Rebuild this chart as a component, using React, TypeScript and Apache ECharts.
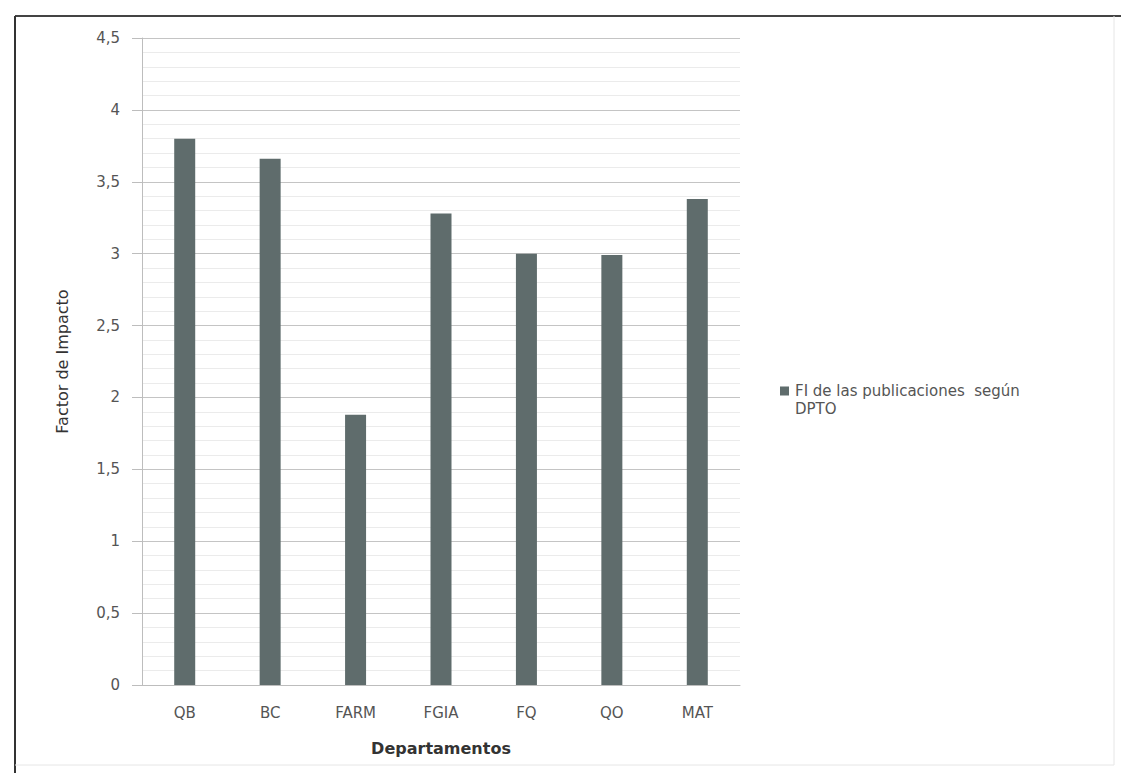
import React, { useEffect, useRef } from "react";
import * as echarts from "echarts";

const categories = ["QB", "BC", "FARM", "FGIA", "FQ", "QO", "MAT"];
const fiValues = [3.8, 3.66, 1.88, 3.28, 3.0, 2.99, 3.38];
const seriesName = "FI de las publicaciones  según DPTO";
const yAxisName = "Factor de Impacto";
const xAxisName = "Departamentos";

export default function App() {
  const ref = useRef<HTMLDivElement>(null);
  useEffect(() => {
    document.body.style.margin = "0";
    const chart = echarts.init(ref.current!, null, { renderer: "svg" });
    const font = "'DejaVu Sans', 'Open Sans', sans-serif";
    chart.setOption({
      animation: false,
      backgroundColor: "#ffffff",
      textStyle: { fontFamily: font },
      grid: { left: 142, top: 38, right: 381, bottom: 88, containLabel: false },
      legend: {
        left: 780,
        top: 382,
        padding: 0,
        orient: "vertical",
        icon: "path://M0,0h9v9h-9z M0,27h0.01",
        itemWidth: 9,
        itemHeight: 27,
        itemGap: 4,
        data: [seriesName],
        formatter: () => "FI de las publicaciones  según\nDPTO",
        textStyle: { fontFamily: font, fontSize: 15, color: "#555", lineHeight: 18, padding: [0, 0, 0, 1] },
      },
      xAxis: {
        type: "category",
        data: categories,
        name: xAxisName,
        nameLocation: "middle",
        nameGap: 55,
        nameTextStyle: { fontFamily: font, fontSize: 16, fontWeight: "bold", color: "#333" },
        axisLine: { lineStyle: { color: "#bdbdbd" } },
        axisTick: { show: false },
        axisLabel: { fontSize: 15, color: "#555", margin: 20 },
        splitLine: { show: false },
      },
      yAxis: {
        type: "value",
        min: 0,
        max: 4.5,
        interval: 0.5,
        name: yAxisName,
        nameLocation: "middle",
        nameGap: 72,
        nameTextStyle: { fontFamily: font, fontSize: 16, color: "#333" },
        axisLine: { show: true, lineStyle: { color: "#bdbdbd" } },
        axisTick: { show: true, length: 10, lineStyle: { color: "#bdbdbd" } },
        axisLabel: {
          fontSize: 15,
          color: "#555",
          margin: 22,
          formatter: (v: number) => String(v).replace(".", ","),
        },
        splitLine: { show: true, lineStyle: { color: "#c4c4c4", width: 1 } },
        minorTick: { show: false, splitNumber: 5 },
        minorSplitLine: { show: true, lineStyle: { color: "#ebebeb", width: 1 } },
      },
      series: [
        {
          name: seriesName,
          type: "bar",
          data: fiValues,
          barWidth: 21,
          itemStyle: { color: "#5f6c6c" },
        },
      ],
      graphic: [
        { type: "line", shape: { x1: 15, y1: 16, x2: 1121, y2: 16 }, style: { stroke: "#444", lineWidth: 2 } },
        { type: "line", shape: { x1: 15, y1: 16, x2: 15, y2: 773 }, style: { stroke: "#333", lineWidth: 2 } },
        { type: "line", shape: { x1: 1114, y1: 16, x2: 1114, y2: 765 }, style: { stroke: "#e6e6e6", lineWidth: 1 } },
        { type: "line", shape: { x1: 15, y1: 765, x2: 1114, y2: 765 }, style: { stroke: "#e6e6e6", lineWidth: 1 } },
      ],
    });
    return () => chart.dispose();
  }, []);
  return <div ref={ref} style={{ width: 1121, height: 773 }} />;
}
